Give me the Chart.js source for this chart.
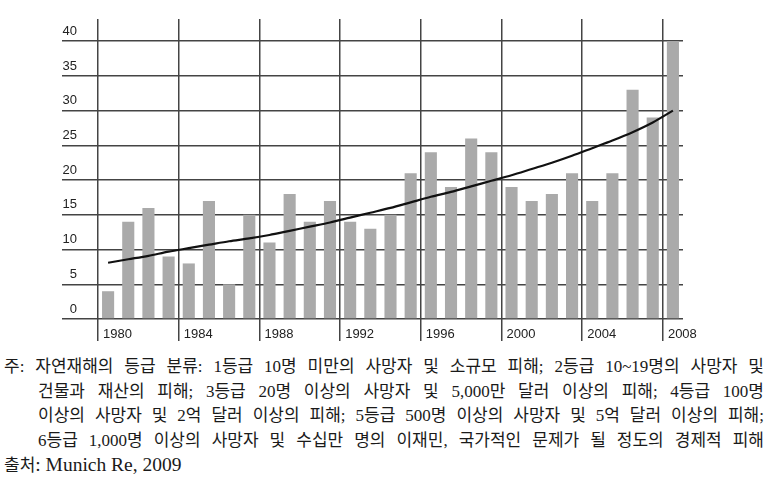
<!doctype html>
<html lang="ko">

<head>
    <meta charset="utf-8">
    <title>자연재해 발생 추이 1980-2008</title>
    <script src="https://cdn.jsdelivr.net/npm/chart.js"></script>
    <style>
        html,
        body {
            margin: 0;
            padding: 0;
            background: #fff;
        }

        #disasterChart {
            display: block;
        }

        #notes {
            position: absolute;
            left: 4px;
            top: 355px;
            width: 760px;
            font-family: "Liberation Serif", "Noto Sans CJK KR", serif;
            font-size: 17px;
            line-height: 24.5px;
            color: #1a1a1a;
        }

        .ln {
            text-align: justify;
            text-align-last: justify;
        }

        .ind {
            padding-left: 34px;
        }

        .src {
            text-align: left;
            text-align-last: left;
        }

        .src span {
            font-size: 19.5px;
        }
    </style>
</head>

<body>
    <canvas id="disasterChart" width="771" height="350"></canvas>
    <div id="notes">
        <div class="ln">주: 자연재해의 등급 분류: 1등급 10명 미만의 사망자 및 소규모 피해; 2등급 10~19명의 사망자 및</div>
        <div class="ln ind">건물과 재산의 피해; 3등급 20명 이상의 사망자 및 5,000만 달러 이상의 피해; 4등급 100명</div>
        <div class="ln ind">이상의 사망자 및 2억 달러 이상의 피해; 5등급 500명 이상의 사망자 및 5억 달러 이상의 피해;</div>
        <div class="ln ind">6등급 1,000명 이상의 사망자 및 수십만 명의 이재민, 국가적인 문제가 될 정도의 경제적 피해</div>
        <div class="ln src">출처<span>: Munich Re, 2009</span></div>
    </div>

    <script>
        // values
        const years = ['1980', '1981', '1982', '1983', '1984', '1985', '1986', '1987', '1988', '1989',
            '1990', '1991', '1992', '1993', '1994', '1995', '1996', '1997', '1998', '1999',
            '2000', '2001', '2002', '2003', '2004', '2005', '2006', '2007', '2008'];
        const disasterCounts = [4, 14, 16, 9, 8, 17, 5, 15, 11, 18,
            14, 17, 14, 13, 15, 21, 24, 19, 26, 24,
            19, 17, 18, 21, 17, 21, 33, 29, 40];
        const trendLine = [8.1, 8.6, 9.1, 9.7, 10.2, 10.7, 11.2, 11.6, 12.1, 12.7,
            13.3, 13.9, 14.6, 15.3, 16.0, 16.8, 17.6, 18.3, 19.1, 19.9,
            20.7, 21.6, 22.5, 23.5, 24.6, 25.7, 26.9, 28.3, 30.0];
        const yAxisMax = 43.2;
        const yStep = 5;
        const labelEvery = 4;

        const gridColor = '#444';
        const gridWidth = 1.5;
        const tickFont = { family: 'Liberation Sans', size: 13 };

        // vertical lines only at every 4th year, none at the right edge
        const yearGrid = (ctx) =>
            (ctx.index % labelEvery === 0 && ctx.index < years.length) ? gridColor : 'rgba(0,0,0,0)';

        // horizontal lines across the plot at the y scale's ticks
        function strokeValueLines(chart, mode) {
            const { ctx, chartArea, scales: { y } } = chart;
            ctx.save();
            ctx.globalCompositeOperation = mode;
            ctx.globalAlpha = 1;
            ctx.setLineDash([]);
            ctx.strokeStyle = gridColor;
            ctx.lineWidth = gridWidth;
            y.ticks.forEach(t => {
                const py = Math.round(y.getPixelForValue(t.value) - gridWidth / 2) + gridWidth / 2;
                ctx.beginPath();
                ctx.moveTo(chartArea.left, py);
                ctx.lineTo(chartArea.right, py);
                ctx.stroke();
            });
            ctx.restore();
        }

        // drawn last but slid underneath everything already painted, so bars stay in front
        const valueLines = {
            id: 'valueLines',
            afterDraw(chart) {
                strokeValueLines(chart, 'destination-over');
            }
        };

        const chart = new Chart(document.getElementById('disasterChart'), {
            type: 'bar',
            data: {
                labels: years,
                datasets: [
                    {
                        type: 'line',
                        data: trendLine,
                        borderColor: '#111',
                        borderWidth: 2.2,
                        pointRadius: 0,
                        tension: 0.3,
                        fill: false,
                        order: 0
                    },
                    {
                        type: 'bar',
                        data: disasterCounts,
                        backgroundColor: '#aaaaaa',
                        barPercentage: 0.6,
                        categoryPercentage: 1,
                        order: 1
                    }
                ]
            },
            options: {
                responsive: false,
                animation: false,
                devicePixelRatio: 1,
                layout: { padding: { left: 62, right: 88, top: 19, bottom: 0 } },
                plugins: {
                    legend: { display: false },
                    tooltip: { enabled: false }
                },
                scales: {
                    x: {
                        offset: true,
                        grid: { offset: true, color: yearGrid, lineWidth: gridWidth, tickLength: 22 },
                        border: { display: false },
                        ticks: {
                            autoSkip: false,
                            maxRotation: 0,
                            minRotation: 0,
                            align: 'start',
                            labelOffset: -5,
                            padding: -14,
                            color: '#222',
                            font: tickFont,
                            callback: (value, index) => index % labelEvery === 0 ? years[index] : ''
                        },
                        afterFit: (scale) => { scale.height = 31; }
                    },
                    y: {
                        min: 0,
                        max: yAxisMax,
                        grid: { color: gridColor, lineWidth: gridWidth, tickLength: 36, drawOnChartArea: false },
                        border: { display: false },
                        ticks: {
                            stepSize: yStep,
                            includeBounds: false,
                            padding: -15,
                            labelOffset: -10,
                            color: '#222',
                            font: tickFont
                        },
                        afterFit: (scale) => { scale.width = 36; }
                    }
                }
            },
            plugins: [valueLines]
        });

        // last resort: if the top line still is not on the canvas, paint the lines on top
        const probeY = Math.floor(chart.scales.y.getPixelForValue(40));
        const probe = chart.ctx.getImageData(Math.round(chart.chartArea.left + 40), probeY, 1, 1).data;
        if (probe[3] < 100) {
            strokeValueLines(chart, 'source-over');
        }
    </script>
</body>

</html>
